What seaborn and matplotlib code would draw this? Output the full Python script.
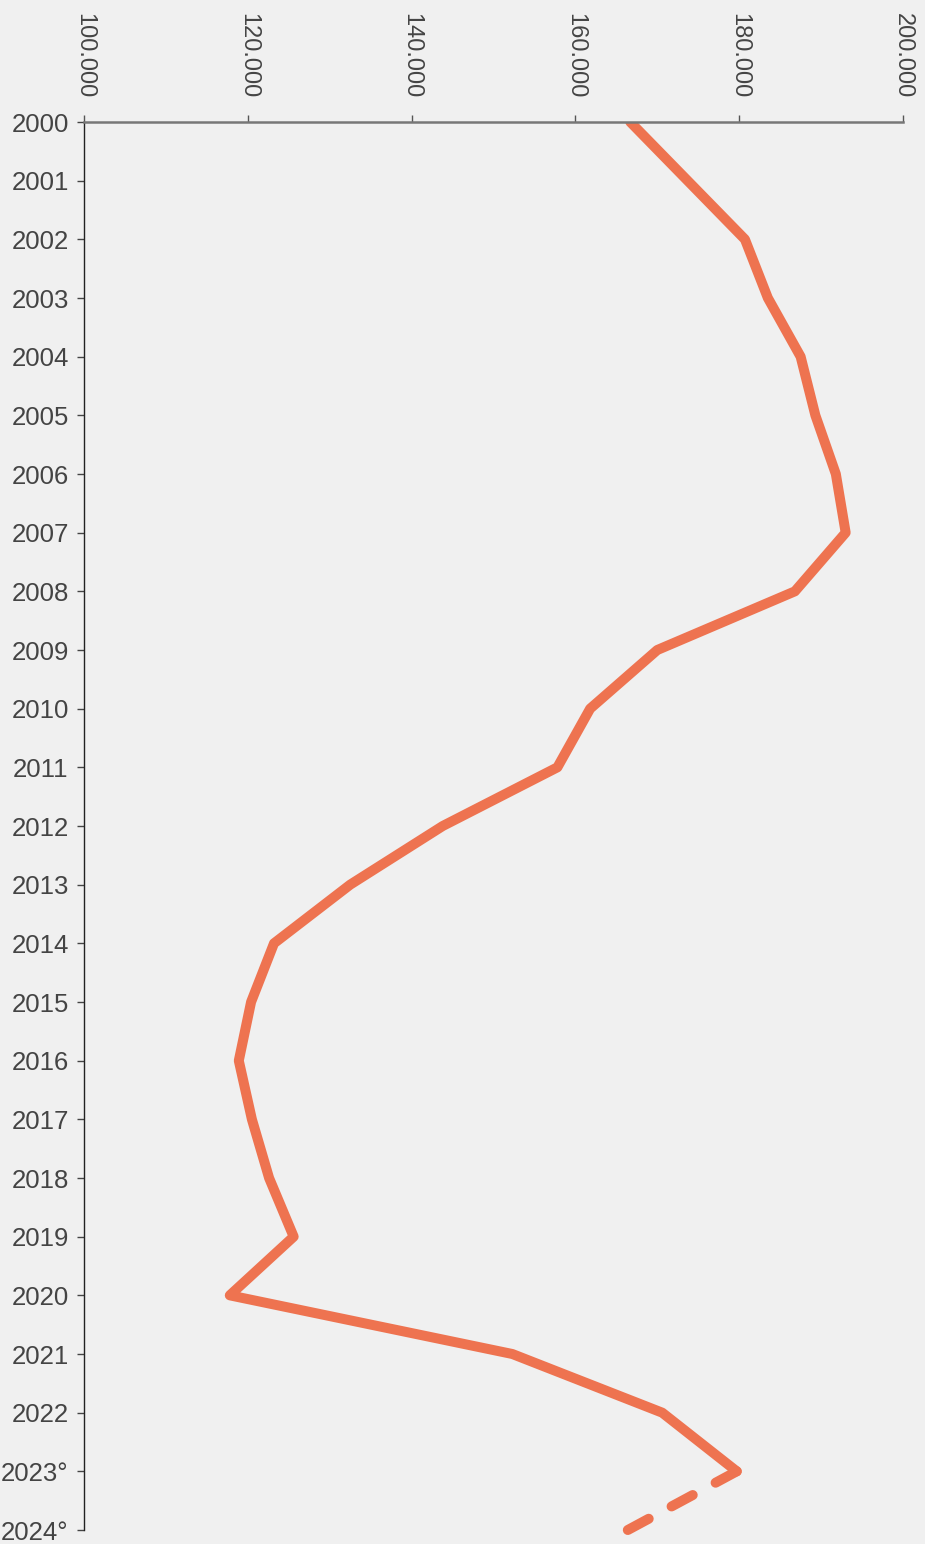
import numpy as np
import pandas as pd
import matplotlib
matplotlib.use('Agg')
import matplotlib.pyplot as plt
import seaborn as sns

# dados
anos = [2000, 2001, 2002, 2003, 2004, 2005, 2006, 2007, 2008, 2009, 2010, 2011,
        2012, 2013, 2014, 2015, 2016, 2017, 2018, 2019, 2020, 2021, 2022, 2023, 2024]
valores = [166.7, 173.7, 180.7, 183.5, 187.5, 189.3, 191.8, 193.0, 186.8, 170.0,
           161.8, 157.8, 143.8, 132.5, 123.2, 120.4, 118.9, 120.5, 122.6, 125.6,
           117.8, 152.3, 170.6, 179.7, 166.4]
rotulos_anos = [str(a) for a in anos[:-2]] + ['2023°', '2024°']
ticks_x = [100, 120, 140, 160, 180, 200]
rotulos_x = ['100.000', '120.000', '140.000', '160.000', '180.000', '200.000']

cor = '#ee7350'
fundo = '#f0f0f0'

sns.set_style('ticks')
plt.rcParams['font.family'] = ['Liberation Sans', 'DejaVu Sans']

df = pd.DataFrame({'ano': anos, 'valor': valores})
solido = df[df['ano'] <= 2023]
tracejado = df[df['ano'] >= 2023]

fig = plt.figure(figsize=(9.25, 15.44), dpi=100, facecolor=fundo)
ax = fig.add_axes([84 / 925, 1 - 1530 / 1544, 819 / 925, 1408 / 1544])
ax.set_facecolor(fundo)

sns.lineplot(data=solido, x='valor', y='ano', orient='y', sort=False, ax=ax,
             color=cor, linewidth=7.2, solid_capstyle='round', solid_joinstyle='round')
sns.lineplot(data=tracejado, x='valor', y='ano', orient='y', sort=False, ax=ax,
             color=cor, linewidth=7.2, dash_capstyle='round')
ax.lines[-1].set_dashes([2.4, 2.6])
ax.lines[-1].set_clip_on(False)  # a ponta de 2024 passa do eixo

ax.set_xlim(100, 200)
ax.set_ylim(2024, 2000)
ax.set_xticks(ticks_x, labels=rotulos_x)
ax.set_yticks(anos, labels=rotulos_anos)
ax.xaxis.tick_top()
ax.set_xlabel('')
ax.set_ylabel('')

for s in ['right', 'bottom']:
    ax.spines[s].set_visible(False)
ax.spines['top'].set_color('#777777')
ax.spines['top'].set_linewidth(1.8)
ax.spines['left'].set_color('#222222')
ax.spines['left'].set_linewidth(1.0)

ax.tick_params(axis='x', top=True, bottom=False, length=5, width=1, color='#555555',
               labelsize=17, labelcolor='#444444', labelrotation=-90, pad=12)
ax.tick_params(axis='y', length=5, width=1, color='#444444',
               labelsize=18.5, labelcolor='#444444', pad=6)
for t in ax.get_xticklabels():
    t.set_verticalalignment('bottom')

fig.savefig('out.png', dpi=100, facecolor=fundo)
